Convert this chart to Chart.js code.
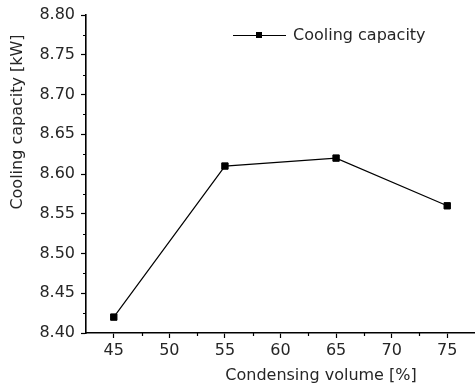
<!DOCTYPE html>
<html>
<head>
<meta charset="utf-8">
<script src="https://cdn.jsdelivr.net/npm/chart.js@4"></script>
<style>
  html, body { margin: 0; padding: 0; background: #fff; }
  #wrap { width: 475px; height: 389px; }
</style>
</head>
<body>
<div id="wrap"><canvas id="capacityChart" width="475" height="389"></canvas></div>
<script>
// data
const condensingVolume = [45, 55, 65, 75];
const coolingCapacity = [8.42, 8.61, 8.62, 8.56];
const xTicks = [45, 50, 55, 60, 65, 70, 75];
const yTicks = [8.40, 8.45, 8.50, 8.55, 8.60, 8.65, 8.70, 8.75, 8.80];
const seriesLabel = "Cooling capacity";
const xTitle = "Condensing volume [%]";
const yTitle = "Cooling capacity [kW]";

const FONT = "'DejaVu Sans', sans-serif";
const TEXT = "#262626";

// minor ticks, axis titles and the legend drawn by hand
const decorPlugin = {
    id: "decor",
    afterDraw(chart) {
        const ctx = chart.ctx;
        const x = chart.scales.x;
        const y = chart.scales.y;
        const area = chart.chartArea;
        ctx.save();
        ctx.strokeStyle = "#000";
        ctx.lineWidth = 1.2;
        ctx.beginPath();
        for (let i = 0; i < xTicks.length - 1; i++) {
            const px = Math.round(x.getPixelForValue((xTicks[i] + xTicks[i + 1]) / 2)) + 0.5;
            ctx.moveTo(px, area.bottom);
            ctx.lineTo(px, area.bottom + 3);
        }
        for (let i = 0; i < yTicks.length - 1; i++) {
            const py = Math.round(y.getPixelForValue((yTicks[i] + yTicks[i + 1]) / 2)) + 0.5;
            ctx.moveTo(area.left, py);
            ctx.lineTo(area.left - 3, py);
        }
        ctx.stroke();

        // axis titles
        ctx.fillStyle = TEXT;
        ctx.font = "16px " + FONT;
        ctx.textAlign = "center";
        ctx.textBaseline = "middle";
        ctx.fillText(xTitle, 321, 376);
        ctx.save();
        ctx.translate(18, 122);
        ctx.rotate(-Math.PI / 2);
        ctx.fillText(yTitle, 0, 0);
        ctx.restore();

        // legend
        ctx.strokeStyle = "#000";
        ctx.lineWidth = 1;
        ctx.beginPath();
        ctx.moveTo(233, 35.5);
        ctx.lineTo(286, 35.5);
        ctx.stroke();
        ctx.fillStyle = "#000";
        ctx.fillRect(256, 32, 6, 6);
        ctx.fillStyle = TEXT;
        ctx.textAlign = "left";
        ctx.fillText(seriesLabel, 293, 36);
        ctx.restore();
    },
};

document.addEventListener("DOMContentLoaded", () => {
    const el = document.getElementById("capacityChart");
    new Chart(el.getContext("2d"), {
        type: "line",
        data: {
            datasets: [
                {
                    label: seriesLabel,
                    data: condensingVolume.map((v, i) => ({ x: v, y: coolingCapacity[i] })),
                    borderColor: "#000",
                    borderWidth: 1.2,
                    backgroundColor: "#000",
                    pointStyle: "rect",
                    pointRadius: 4.5,
                    pointBorderWidth: 1,
                    pointBackgroundColor: "#000",
                    pointBorderColor: "#000",
                    tension: 0,
                    fill: false,
                },
            ],
        },
        options: {
            responsive: false,
            animation: false,
            layout: { autoPadding: false, padding: { top: 15, right: 0, left: 0, bottom: 0 } },
            plugins: {
                legend: { display: false },
                tooltip: { enabled: false },
            },
            scales: {
                x: {
                    type: "linear",
                    min: 42.5,
                    max: 77.5,
                    afterBuildTicks: (s) => { s.ticks = xTicks.map((v) => ({ value: v })); },
                    afterFit: (s) => { s.height = 56; s.paddingLeft = 0; s.paddingRight = 0; },
                    grid: { drawOnChartArea: false, drawTicks: true, tickLength: 5, tickColor: "#000", tickWidth: 1.2 },
                    border: { display: true, color: "#000", width: 1.6 },
                    ticks: { color: TEXT, font: { family: FONT, size: 16 }, padding: 3, maxRotation: 0 },
                },
                y: {
                    min: 8.4,
                    max: 8.8,
                    afterBuildTicks: (s) => { s.ticks = yTicks.map((v) => ({ value: v })); },
                    afterFit: (s) => { s.width = 86; s.paddingTop = 0; s.paddingBottom = 0; },
                    grid: { drawOnChartArea: false, drawTicks: true, tickLength: 5, tickColor: "#000", tickWidth: 1.2 },
                    border: { display: true, color: "#000", width: 1.6 },
                    ticks: {
                        color: TEXT,
                        font: { family: FONT, size: 16 },
                        padding: 6,
                        callback: (v) => Number(v).toFixed(2),
                    },
                },
            },
        },
        plugins: [decorPlugin],
    });
});
</script>
</body>
</html>
